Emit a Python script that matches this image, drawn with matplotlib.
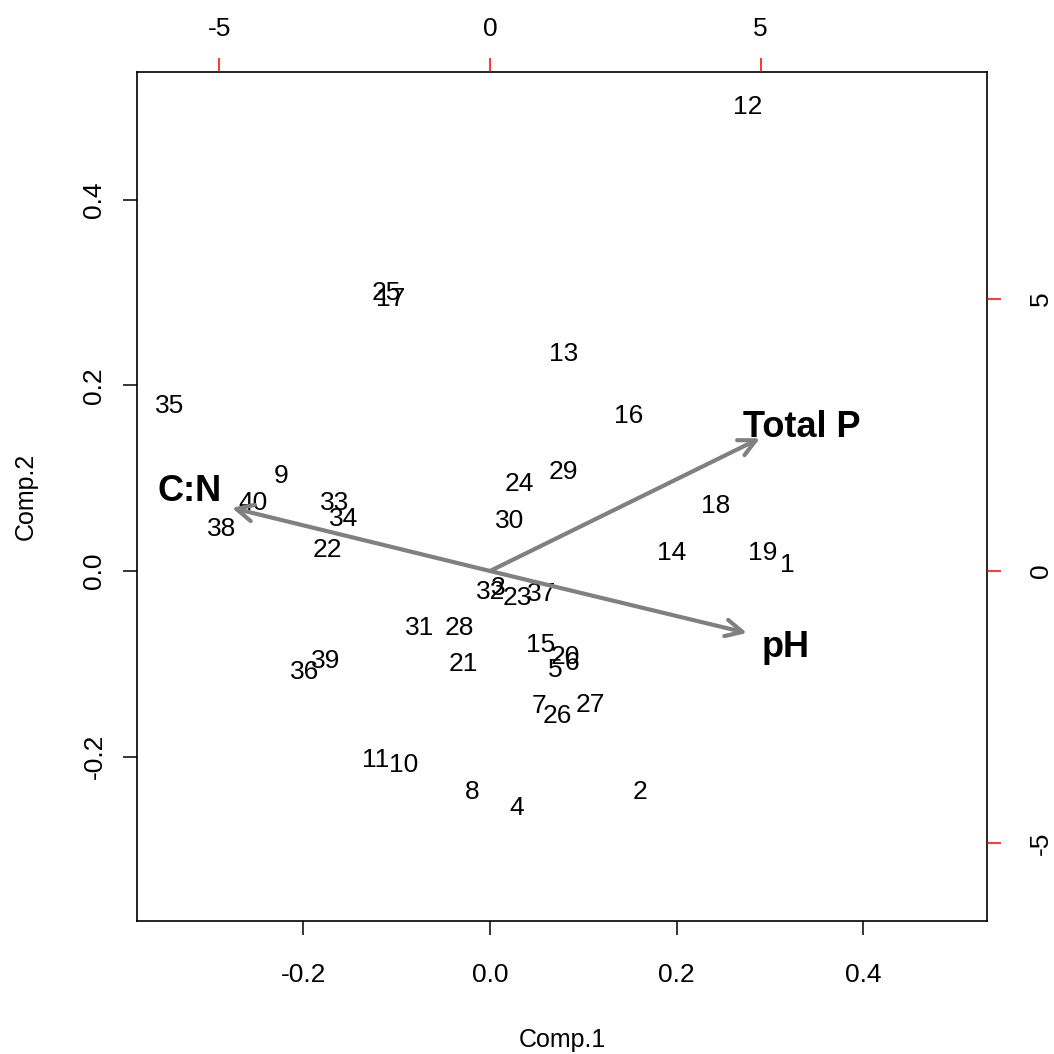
import matplotlib
matplotlib.use("Agg")
import matplotlib.pyplot as plt

plt.rcParams['font.family'] = ['Liberation Sans', 'DejaVu Sans']
plt.rcParams['axes.unicode_minus'] = False

# Scores (Comp.1, Comp.2)
labels = [str(i) for i in range(1, 41)]
comp1 = [0.319, 0.161, 0.009, 0.029, 0.070, 0.088, 0.052, -0.019, -0.224, -0.092,
         -0.122, 0.276, 0.079, 0.195, 0.054, 0.148, -0.106, 0.242, 0.292, 0.081,
         -0.029, -0.174, 0.029, 0.031, -0.111, 0.072, 0.108, -0.033, 0.079, 0.021,
         -0.075, 0.001, -0.166, -0.157, -0.343, -0.199, 0.055, -0.288, -0.176, -0.254]
comp2 = [0.006, -0.238, -0.018, -0.255, -0.107, -0.099, -0.145, -0.238, 0.102, -0.209,
         -0.204, 0.500, 0.234, 0.019, -0.080, 0.167, 0.293, 0.070, 0.019, -0.093,
         -0.100, 0.023, -0.029, 0.094, 0.299, -0.156, -0.144, -0.061, 0.107, 0.054,
         -0.061, -0.023, 0.073, 0.056, 0.178, -0.109, -0.025, 0.045, -0.097, 0.073]

# Loadings (arrow tips and label positions, in top/right axis units)
var_names = ["Total P", "pH", "C:N"]
load1 = [4.99, 4.75, -4.77]
load2 = [2.44, -1.14, 1.16]
lab1 = [5.77, 5.47, -5.55]
lab2 = [2.64, -1.40, 1.47]

xticks_bottom = [-0.2, 0.0, 0.2, 0.4]
yticks_left = [-0.2, 0.0, 0.2, 0.4]
ticks_top = [-5, 0, 5]
ticks_right = [-5, 0, 5]

W = 1054
fig = plt.figure(figsize=(10.54, 10.54), dpi=100)
pos = [137 / W, (W - 921) / W, (987 - 137) / W, (921 - 72) / W]
ax = fig.add_axes(pos)
ax.set_xlim((137 - 490) / 933.5, (987 - 490) / 933.5)
ax.set_ylim((571 - 921) / 928.5, (571 - 72) / 928.5)
for s in ax.spines.values():
    s.set_linewidth(1.2)
for lab, x, y in zip(labels, comp1, comp2):
    ax.text(x, y, lab, ha='center', va='center', fontsize=19, color='black')
ax.set_xticks(xticks_bottom)
ax.set_xticklabels(['%.1f' % v for v in xticks_bottom])
ax.set_yticks(yticks_left)
ax.set_yticklabels(['%.1f' % v for v in yticks_left], rotation=90, va='center')
ax.tick_params(axis='both', labelsize=19, length=10, width=1.1, direction='out')
ax.tick_params(axis='x', pad=20)
ax.tick_params(axis='y', pad=12)
ax.set_xlabel('Comp.1', fontsize=18, labelpad=30)
ax.set_ylabel('Comp.2', fontsize=18, labelpad=32)

ax2 = fig.add_axes(pos, frameon=False)
ax2.set_xlim((137 - 490) / 54.1, (987 - 490) / 54.1)
ax2.set_ylim((571 - 921) / 54.4, (571 - 72) / 54.4)
ax2.xaxis.tick_top()
ax2.yaxis.tick_right()
ax2.set_xticks(ticks_top)
ax2.set_xticklabels([str(v) for v in ticks_top])
ax2.set_yticks(ticks_right)
ax2.set_yticklabels([str(v) for v in ticks_right], rotation=90, va='center')
ax2.tick_params(axis='both', labelsize=19, length=10, width=1.1, direction='out',
                color='red')
ax2.tick_params(axis='x', pad=12)
ax2.tick_params(axis='y', pad=20)
ax2.patch.set_visible(False)

for name, x, y, lx, ly in zip(var_names, load1, load2, lab1, lab2):
    ax2.annotate('', xy=(x, y), xytext=(0, 0),
                 arrowprops=dict(arrowstyle='->', color='#808080', lw=3,
                                 mutation_scale=30, shrinkA=0, shrinkB=0))
    ax2.text(lx, ly, name, ha='center', va='center', fontsize=26,
             fontweight='bold', color='black')

fig.savefig('out.png', dpi=100)
